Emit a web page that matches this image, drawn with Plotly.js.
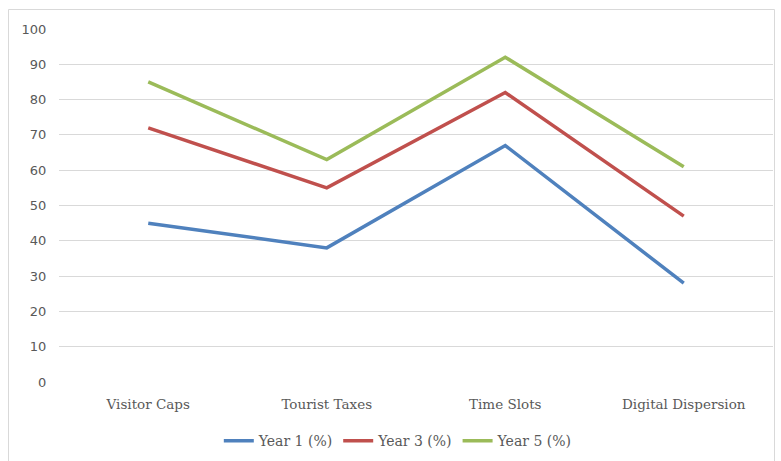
<!DOCTYPE html>
<html>
<head>
<meta charset="utf-8">
<script src="https://cdn.plot.ly/plotly-3.0.1.min.js"></script>
<style>
html,body{margin:0;padding:0;background:#fff;}
#chart{width:781px;height:461px;}
</style>
</head>
<body>
<div id="chart"></div>
<script>
const categories = ["Visitor Caps", "Tourist Taxes", "Time Slots", "Digital Dispersion"];
const year1 = [45, 38, 67, 28];
const year3 = [72, 55, 82, 47];
const year5 = [85, 63, 92, 61];
const seriesNames = ["Year 1 (%)", "Year 3 (%)", "Year 5 (%)"];
const colors = ["#4F81BD", "#C0504D", "#9BBB59"];
const yTicks = [0, 10, 20, 30, 40, 50, 60, 70, 80, 90, 100];

const data = [year1, year3, year5].map((vals, i) => ({
  type: "scatter",
  mode: "lines",
  x: categories,
  y: vals,
  name: seriesNames[i],
  line: {color: colors[i], width: 3.5}
}));

const layout = {
  width: 781,
  height: 461,
  margin: {l: 59, r: 8, t: 29, b: 79},
  paper_bgcolor: "#ffffff",
  plot_bgcolor: "#ffffff",
  showlegend: true,
  legend: {
    orientation: "h",
    xref: "container", yref: "container",
    x: 0.51, xanchor: "center",
    y: 0.043, yanchor: "middle",
    font: {family: "DejaVu Serif", size: 14, color: "#595959"},
    itemwidth: 30,
    tracegroupgap: 0
  },
  xaxis: {
    type: "category",
    range: [-0.5, 3.5],
    automargin: false,
    showgrid: false,
    zeroline: false,
    showline: false,
    ticks: "outside",
    ticklen: 10,
    tickcolor: "rgba(0,0,0,0)",
    tickfont: {family: "DejaVu Serif", size: 13.5, color: "#595959"}
  },
  yaxis: {
    range: [0, 100],
    automargin: false,
    tickvals: yTicks,
    ticktext: yTicks.map(String),
    showgrid: true,
    gridcolor: "#d9d9d9",
    gridwidth: 1,
    zeroline: false,
    showline: false,
    ticks: "outside",
    ticklen: 9,
    tickcolor: "rgba(0,0,0,0)",
    tickfont: {family: "DejaVu Sans", size: 13, color: "#595959"}
  },
  shapes: [{
    type: "rect",
    xref: "paper", yref: "paper",
    x0: (8.5 - 59) / 714, x1: (774.5 - 59) / 714,
    y0: -0.3, y1: (382 - 9.5) / 353,
    line: {color: "#d9d9d9", width: 1},
    fillcolor: "rgba(0,0,0,0)",
    layer: "below"
  }]
};

Plotly.newPlot("chart", data, layout, {displayModeBar: false, staticPlot: true});
</script>
</body>
</html>
